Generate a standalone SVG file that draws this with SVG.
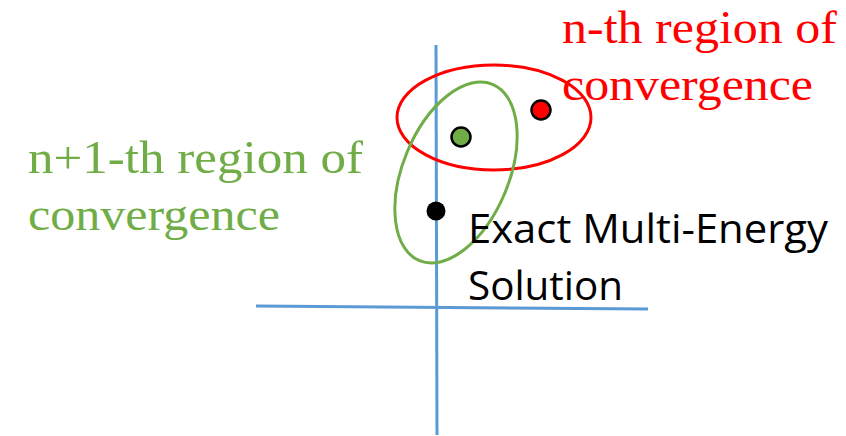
<svg xmlns="http://www.w3.org/2000/svg" width="846" height="436" viewBox="0 0 846 436">
<style>
.axis{stroke:#5B9BD5;stroke-width:3;fill:none}
.serif{font-family:"Liberation Serif","DejaVu Serif",serif;font-size:46px}
.sans{font-family:"Open Sans","Liberation Sans",sans-serif;font-size:41px;fill:#000}
.dot{stroke:#000;stroke-width:2.5}
</style>
<rect width="846" height="436" fill="#fff"/>
<g id="axes">
<line class="axis" x1="436" y1="45" x2="437" y2="435"/>
<line class="axis" x1="256" y1="306" x2="648" y2="309"/>
</g>
<g id="red-region">
<ellipse cx="494" cy="117.5" rx="97" ry="52.5" fill="none" stroke="#FF0000" stroke-width="3"/>
</g>
<g id="green-region">
<ellipse cx="456" cy="172.5" rx="53" ry="95.5" transform="rotate(22.5 456 172.5)" fill="none" stroke="#70AD47" stroke-width="3"/>
</g>
<g id="red-dot"><circle class="dot" cx="541" cy="110" r="9.5" fill="#FF0000"/></g>
<g id="green-dot"><circle class="dot" cx="461" cy="137" r="9.5" fill="#70AD47"/></g>
<g id="exact-dot"><circle cx="436" cy="211" r="9.5" fill="#000"/></g>
<g id="red-label" fill="#FF0000">
<text class="serif" x="562" y="43" textLength="275" lengthAdjust="spacingAndGlyphs">n-th region of</text>
<text class="serif" x="562" y="100" textLength="251" lengthAdjust="spacingAndGlyphs">convergence</text>
</g>
<g id="green-label" fill="#70AD47">
<text class="serif" x="28" y="173" textLength="335" lengthAdjust="spacingAndGlyphs">n+1-th region of</text>
<text class="serif" x="28" y="230" textLength="252" lengthAdjust="spacingAndGlyphs">convergence</text>
</g>
<g id="exact-label">
<text class="sans" x="468" y="243" textLength="360" lengthAdjust="spacingAndGlyphs">Exact Multi-Energy</text>
<text class="sans" x="468" y="300" textLength="155" lengthAdjust="spacingAndGlyphs">Solution</text>
</g>
</svg>
